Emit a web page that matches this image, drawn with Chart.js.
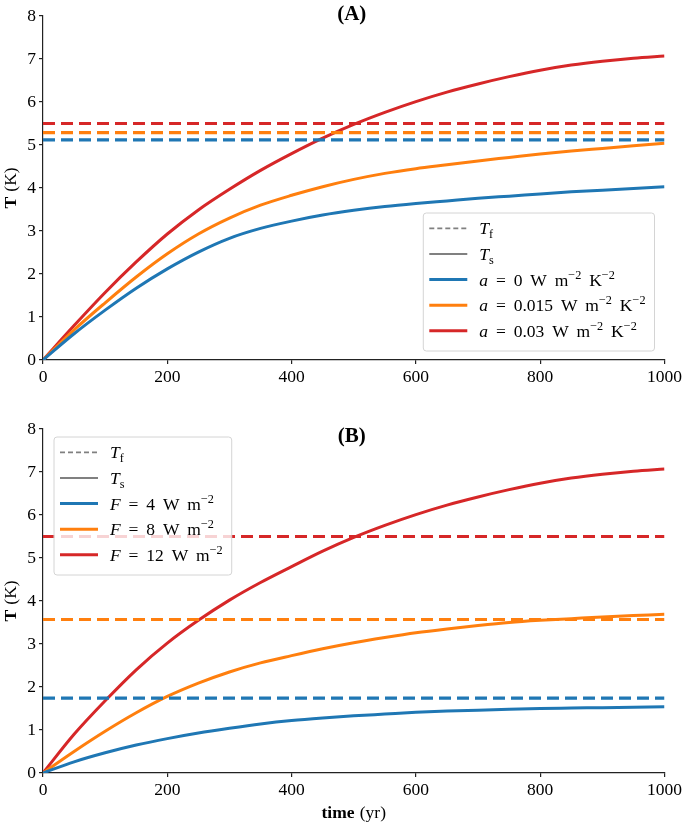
<!DOCTYPE html>
<html>
<head>
<meta charset="utf-8">
<script src="https://cdn.jsdelivr.net/npm/chart.js@4.4.1/dist/chart.umd.min.js"></script>
<style>
  body { margin: 0; background: #fff; }
  #wrap { position: relative; width: 685px; height: 827px; }
  canvas { position: absolute; left: 0; }
</style>
</head>
<body>
<div id="wrap">
  <canvas id="chartA" width="685" height="385" style="top:0"></canvas>
  <canvas id="chartB" width="685" height="442" style="top:385px"></canvas>
</div>
<script>
// ===============================
// DATA
// ===============================
const years = [0, 50, 100, 150, 200, 250, 300, 350, 400, 450, 500, 550, 600, 650, 700, 750, 800, 850, 900, 950, 1000];

// panel A: different a
const tsA_a0    = [0, 0.61, 1.16, 1.67, 2.12, 2.51, 2.83, 3.06, 3.23, 3.37, 3.48, 3.57, 3.64, 3.70, 3.76, 3.81, 3.86, 3.91, 3.95, 3.99, 4.03];
const tsA_a015  = [0, 0.70, 1.33, 1.93, 2.47, 2.93, 3.30, 3.60, 3.83, 4.03, 4.20, 4.34, 4.45, 4.54, 4.63, 4.71, 4.79, 4.86, 4.92, 4.98, 5.04];
const tsA_a03   = [0, 0.80, 1.57, 2.28, 2.93, 3.49, 3.97, 4.41, 4.80, 5.16, 5.48, 5.76, 6.01, 6.23, 6.42, 6.59, 6.74, 6.86, 6.95, 7.02, 7.07];
const tfA = [5.12, 5.29, 5.50];
const labelsA = ["*a* = 0 W m^{−2} K^{−2}", "*a* = 0.015 W m^{−2} K^{−2}", "*a* = 0.03 W m^{−2} K^{−2}"];

// panel B: different F
const tsB_F4  = [0, 0.26, 0.47, 0.65, 0.80, 0.93, 1.04, 1.14, 1.22, 1.28, 1.33, 1.37, 1.41, 1.44, 1.46, 1.48, 1.50, 1.51, 1.52, 1.53, 1.54];
const tsB_F8  = [0, 0.50, 0.97, 1.40, 1.78, 2.09, 2.35, 2.56, 2.73, 2.89, 3.03, 3.15, 3.26, 3.35, 3.43, 3.50, 3.55, 3.59, 3.63, 3.66, 3.69];
const tsB_F12 = [0, 0.90, 1.68, 2.40, 3.02, 3.55, 4.02, 4.43, 4.80, 5.16, 5.48, 5.76, 6.01, 6.23, 6.42, 6.59, 6.74, 6.86, 6.95, 7.02, 7.07];
const tfB = [1.74, 3.57, 5.50];
const labelsB = ["*F* = 4 W m^{−2}", "*F* = 8 W m^{−2}", "*F* = 12 W m^{−2}"];

const keyLabels = ["*T*_{f}", "*T*_{s}"];
const xTicks = [0, 200, 400, 600, 800, 1000];
const yTicks = [0, 1, 2, 3, 4, 5, 6, 7, 8];

const COLORS = ["#1f77b4", "#ff7f0e", "#d62728"];
const GRAY = "#808080";
const FONT = '"Liberation Serif", "DejaVu Serif", serif';
const FS = 17.5;

// ===============================
// RICH TEXT HELPERS
// ===============================
function parseRich(str) {
  const parts = str.split(/(\*\*[^*]+\*\*|\*[^*]+\*|\^\{[^}]*\}|_\{[^}]*\})/g);
  const runs = [];
  parts.forEach(p => {
    if (!p) return;
    if (p.startsWith("**")) runs.push({ t: p.slice(2, -2), bold: true });
    else if (p.startsWith("*")) runs.push({ t: p.slice(1, -1), italic: true });
    else if (p.startsWith("^{")) runs.push({ t: p.slice(2, -1), sup: true });
    else if (p.startsWith("_{")) runs.push({ t: p.slice(2, -1), sub: true });
    else runs.push({ t: p });
  });
  return runs;
}

function runFont(r, size) {
  const s = (r.sup || r.sub) ? size * 0.7 : size;
  return (r.italic ? "italic " : "") + (r.bold ? "bold " : "") + s + "px " + FONT;
}

// spaces are drawn a bit wider, like TeX math spacing
function runWidth(ctx, r, size, sp) {
  ctx.font = runFont(r, size);
  const words = r.t.split(" ");
  let w = 0;
  words.forEach((wd, i) => { w += ctx.measureText(wd).width; if (i < words.length - 1) w += size * sp; });
  return w;
}

function richWidth(ctx, runs, size, sp) {
  return runs.reduce((w, r) => w + runWidth(ctx, r, size, sp), 0);
}

function drawRich(ctx, runs, x, y, size, align, sp) {
  sp = sp || 0.25;
  let cx = x;
  if (align === "center") cx = x - richWidth(ctx, runs, size, sp) / 2;
  ctx.textAlign = "left";
  ctx.textBaseline = "alphabetic";
  ctx.fillStyle = "#000";
  runs.forEach(r => {
    ctx.font = runFont(r, size);
    let dy = 0;
    if (r.sup) dy = -size * 0.4;
    if (r.sub) dy = size * 0.22;
    const words = r.t.split(" ");
    words.forEach((wd, i) => {
      ctx.fillText(wd, cx, y + dy);
      cx += ctx.measureText(wd).width;
      if (i < words.length - 1) cx += size * sp;
    });
  });
}

// ===============================
// DECOR PLUGIN (legend, titles, axis labels)
// ===============================
const decor = {
  id: "decor",
  afterDatasetsDraw(chart, args, o) {
    const ctx = chart.ctx, ca = chart.chartArea;
    const rowH = 25.6, lineLen = 38, sp = 0.45;
    const items = [
      { label: keyLabels[0], color: GRAY, width: 1.6, dash: [5, 3] },
      { label: keyLabels[1], color: GRAY, width: 2, dash: [] }
    ].concat(o.labels.map((l, i) => ({ label: l, color: COLORS[i], width: 3, dash: [] })));
    const tw = Math.max(...items.map(it => richWidth(ctx, parseRich(it.label), FS, sp)));
    const w = 6 + lineLen + 12 + tw + 9;
    const h = 138;
    const x = o.corner === "lr" ? ca.right - 10 - w : ca.left + 11;
    const y = o.corner === "lr" ? ca.bottom - 9 - h : ca.top + 8;
    ctx.save();
    ctx.beginPath();
    ctx.roundRect(x, y, w, h, 3);
    ctx.fillStyle = "rgba(255,255,255,0.8)";
    ctx.fill();
    ctx.strokeStyle = "#d4d4d4";
    ctx.lineWidth = 1;
    ctx.stroke();
    items.forEach((it, i) => {
      const cy = y + 15.4 + i * rowH;
      ctx.beginPath();
      ctx.setLineDash(it.dash);
      ctx.strokeStyle = it.color;
      ctx.lineWidth = it.width;
      ctx.moveTo(x + 6, cy);
      ctx.lineTo(x + 6 + lineLen, cy);
      ctx.stroke();
      ctx.setLineDash([]);
      drawRich(ctx, parseRich(it.label), x + 6 + lineLen + 12, cy + 6, FS, "left", sp);
    });
    ctx.restore();
  },
  afterDraw(chart, args, o) {
    const ctx = chart.ctx, ca = chart.chartArea;
    const mid = (ca.left + ca.right) / 2;
    ctx.save();
    drawRich(ctx, parseRich(o.title), mid - 2, ca.top + o.titleDy, 21, "center");
    ctx.translate(15.5, (ca.top + ca.bottom) / 2);
    ctx.rotate(-Math.PI / 2);
    drawRich(ctx, parseRich("**T** (K)"), 0, 0, FS, "center", 0.3);
    ctx.restore();
    if (o.xlabel) {
      ctx.save();
      drawRich(ctx, parseRich(o.xlabel), mid, ca.bottom + 45, FS, "center", 0.3);
      ctx.restore();
    }
  }
};

// ===============================
// CHART BUILDERS
// ===============================
function makeDatasets(series, tf) {
  const ds = [];
  tf.forEach((v, i) => {
    ds.push({
      data: [{ x: years[0], y: v }, { x: years[years.length - 1], y: v }],
      borderColor: COLORS[i], borderWidth: 3.2, borderDash: [12, 6],
      pointRadius: 0, fill: false
    });
  });
  series.forEach((s, i) => {
    ds.push({
      data: years.map((t, k) => ({ x: t, y: s[k] })),
      borderColor: COLORS[i], borderWidth: 3,
      cubicInterpolationMode: "monotone",
      pointRadius: 0, fill: false
    });
  });
  return ds;
}

function axisOpts(min, max, ticks, fit) {
  return {
    type: "linear", min: min, max: max,
    afterBuildTicks(s) { s.ticks = ticks.map(v => ({ value: v })); },
    ticks: { color: "#000", font: { family: FONT, size: FS }, padding: 3, maxRotation: 0,
             callback: v => String(v) },
    grid: { drawOnChartArea: false, drawTicks: true, tickLength: 4, color: "#222", lineWidth: 1.2 },
    border: { display: true, color: "#222", width: 1.2 },
    afterFit: fit
  };
}

function makeChart(id, series, tf, labels, extra) {
  return new Chart(document.getElementById(id), {
    type: "line",
    data: { datasets: makeDatasets(series, tf) },
    options: {
      responsive: false,
      animation: false,
      devicePixelRatio: 1,
      layout: { padding: { top: extra.top, right: 18, left: 0, bottom: 0 } },
      scales: {
        x: axisOpts(0, 1000, xTicks, s => { s.height = extra.xh; }),
        y: axisOpts(0, 8, yTicks, s => { s.width = 43; })
      },
      plugins: {
        legend: { display: false },
        tooltip: { enabled: false },
        decor: { labels: labels, corner: extra.corner, title: extra.title, titleDy: extra.titleDy, xlabel: extra.xlabel }
      }
    },
    plugins: [decor]
  });
}

window.onload = () => {
  makeChart("chartA", [tsA_a0, tsA_a015, tsA_a03], tfA, labelsA,
    { top: 16, xh: 25, corner: "lr", title: "**(A)**", titleDy: 3.5 });
  makeChart("chartB", [tsB_F4, tsB_F8, tsB_F12], tfB, labelsB,
    { top: 44, xh: 54, corner: "ul", title: "**(B)**", titleDy: 12.5, xlabel: "**time** (yr)" });
};
</script>
</body>
</html>
